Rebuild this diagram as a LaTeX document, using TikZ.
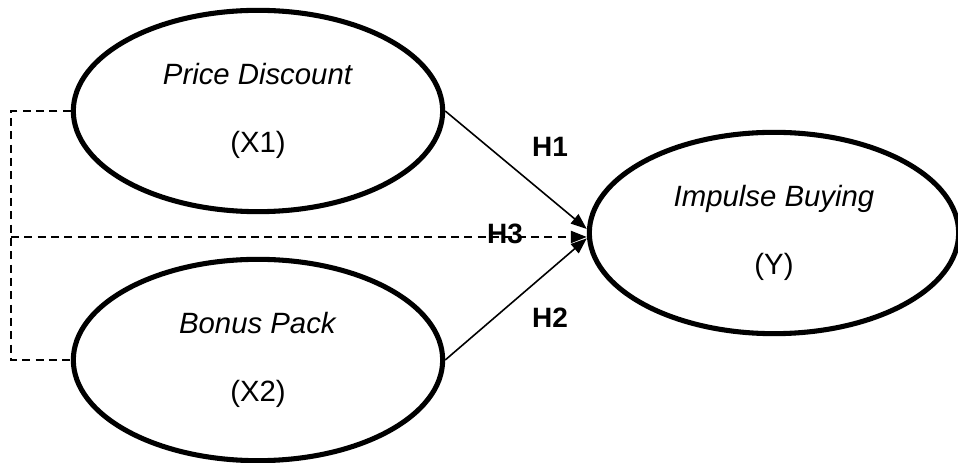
\documentclass[tikz,border=0pt]{standalone}
\usepackage{fontspec}
\setmainfont{Liberation Sans}
\usetikzlibrary{shapes.geometric,
  arrows.meta
}
\tikzset{>={Triangle[length=12pt,width=9pt]}}

\begin{document}
\begin{tikzpicture}[x=0.75pt,y=-0.75pt,
  latent/.style={ellipse,draw,line width=3.8pt,minimum width=277pt,minimum height=151pt,
    inner sep=0pt,align=center,font=\fontsize{22}{51}\selectfont},
  path/.style={line width=1.2pt,->},
  dashline/.style={line width=1.7pt,dash pattern=on 6pt off 4pt},
  hyp/.style={font=\fontsize{21}{24}\selectfont\bfseries}]
  \useasboundingbox (0,0) rectangle (958,463);

  % Constructs
  \node[latent] (pd) at (258,111) {\textit{Price Discount}\\(X1)};
  \node[latent] (bp) at (258,360) {\textit{Bonus Pack}\\(X2)};
  \node[latent] (ib) at (774,233) {\textit{Impulse Buying}\\(Y)};

  % Simultaneous bracket
  \coordinate (lt) at (11,111);
  \coordinate (lb) at (11,360);
  \coordinate (lm) at (11,237);
  \draw[dashline] (pd.west) -- (lt) -- (lb) -- (bp.west);
  \draw[dashline,->] (lm) -- (lm -| ib.west);

  % Partial paths
  \draw[path] (pd.east) -- ([yshift=3pt]ib.west);
  \draw[path] (bp.east) -- ([yshift=-4pt]ib.west);

  % Hypotheses
  \node[hyp] (h1) at (550,147) {H1};
  \node[hyp] (h3) at (505,234) {H3};
  \node[hyp] (h2) at (550,318) {H2};
\end{tikzpicture}
\end{document}
